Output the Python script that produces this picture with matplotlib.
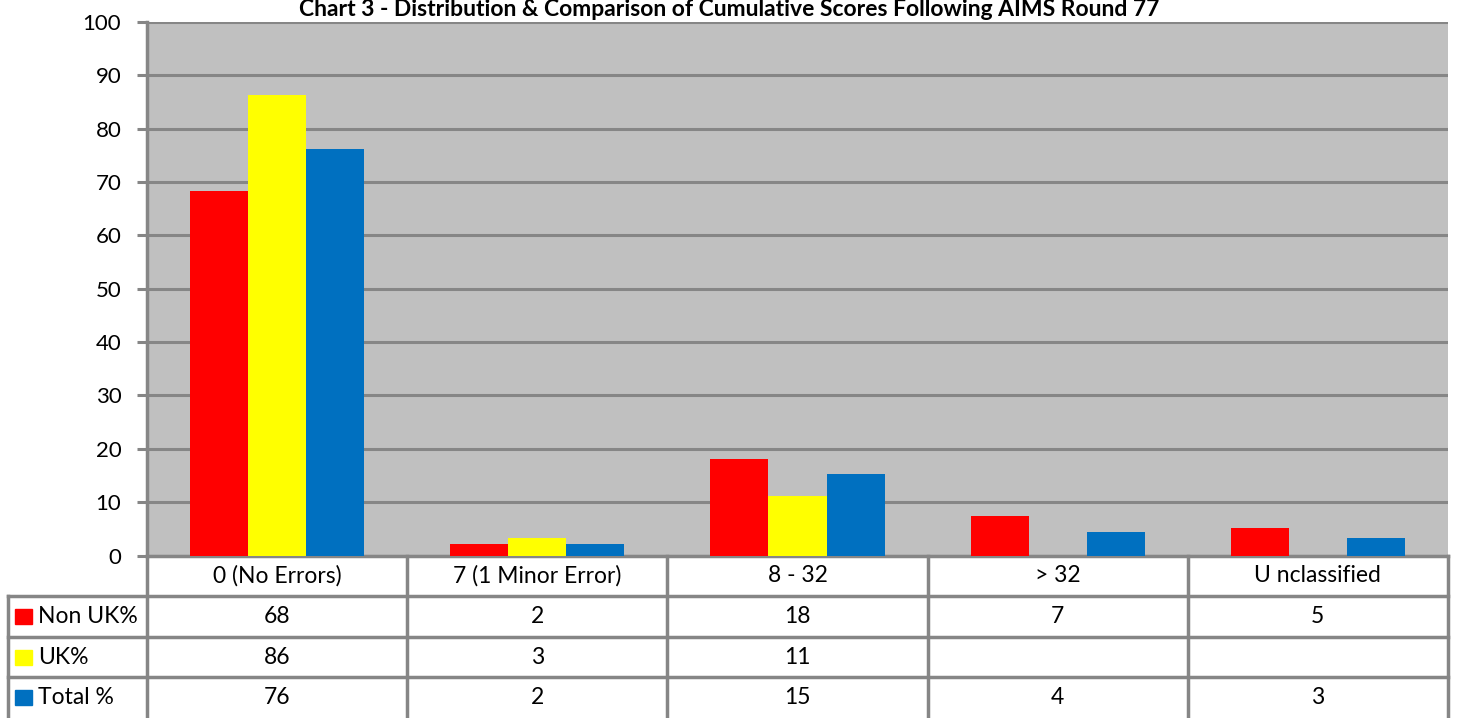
import numpy as np
import matplotlib
matplotlib.use("Agg")
import matplotlib.pyplot as plt

plt.rcParams['font.family'] = ['Lato', 'DejaVu Sans']

categories = ['0 (No Errors)', '7 (1 Minor Error)', '8 - 32', '> 32', 'U nclassified']
series_names = ['Non UK%', 'UK%', 'Total %']
non_uk = [68.4, 2.2, 18.1, 7.4, 5.1]
uk = [86.3, 3.2, 11.1, np.nan, np.nan]
total = [76.2, 2.2, 15.2, 4.4, 3.2]
colors = ['#FF0000', '#FFFF00', '#0070C0']
title = 'Chart 3 - Distribution & Comparison of Cumulative Scores Following AIMS Round 77'

W, H = 1458, 718
fig = plt.figure(figsize=(W / 100, H / 100), dpi=100)
grid_col = '#868686'

# plot area in pixels
left, right, top, bottom = 147, 1448, 22, 555.5
ax = fig.add_axes([left / W, 1 - bottom / H, (right - left) / W, (bottom - top) / H])
ax.set_facecolor('#C0C0C0')

x = np.arange(len(categories))
bw = 0.223
for i, (vals, c) in enumerate(zip([non_uk, uk, total], colors)):
    ax.bar(x + (i - 1) * bw, vals, width=bw, color=c, zorder=3)

ax.set_xlim(-0.5, len(categories) - 0.5)
ax.set_ylim(0, 100)
ax.set_yticks(range(0, 101, 10))
ax.yaxis.grid(True, color=grid_col, linewidth=2.2, zorder=1)
ax.set_axisbelow(True)
ax.tick_params(axis='y', length=7.5, width=2.2, color=grid_col, labelsize=16, pad=11)
ax.tick_params(axis='x', bottom=False, labelbottom=False)
for s in ['top', 'right']:
    ax.spines[s].set_visible(False)
ax.spines['left'].set_color(grid_col)
ax.spines['left'].set_linewidth(2.5)
ax.spines['bottom'].set_color(grid_col)
ax.spines['bottom'].set_linewidth(2.5)

fig.text(0.5, 1 - 16 / H, title, ha='center', va='baseline', fontsize=16.5,
         fontweight='bold')

# data table below the plot, sharing the category x scale
row_h = 40.6
fs = 16.5
tax = fig.add_axes([left / W, 0, (right - left) / W, (H - bottom) / H])
tax.set_xlim(ax.get_xlim())
tax.set_ylim((H - bottom) / row_h, 0)
tax.axis('off')
px = (len(categories)) / (right - left)  # data units per pixel
hdr_left = -0.5 - (left - 8) * px
lw = 2.5
nrows = 4
# vertical lines between category columns
for b in np.arange(-0.5, len(categories) + 0.5, 1):
    tax.plot([b, b], [0, nrows], color=grid_col, lw=lw, clip_on=False)
tax.plot([hdr_left, hdr_left], [1, nrows], color=grid_col, lw=lw, clip_on=False)
for r in range(1, nrows):
    tax.plot([hdr_left, len(categories) - 0.5], [r, r], color=grid_col, lw=lw, clip_on=False)

for i, cat in enumerate(categories):
    tax.text(i, 0.5, cat, ha='center', va='center', fontsize=fs)

table_rows = [non_uk, uk, total]
for r, (name, vals, c) in enumerate(zip(series_names, table_rows, colors)):
    yc = r + 1.5
    tax.add_patch(plt.Rectangle((hdr_left + 7 * px, yc - 7.5 / row_h), 17 * px, 15 / row_h,
                                color=c, clip_on=False))
    tax.text(hdr_left + 30 * px, yc, name, ha='left', va='center', fontsize=fs)
    for i, v in enumerate(vals):
        if not np.isnan(v):
            tax.text(i, yc, str(int(round(v))), ha='center', va='center', fontsize=fs)

fig.savefig('out.png', dpi=100)
